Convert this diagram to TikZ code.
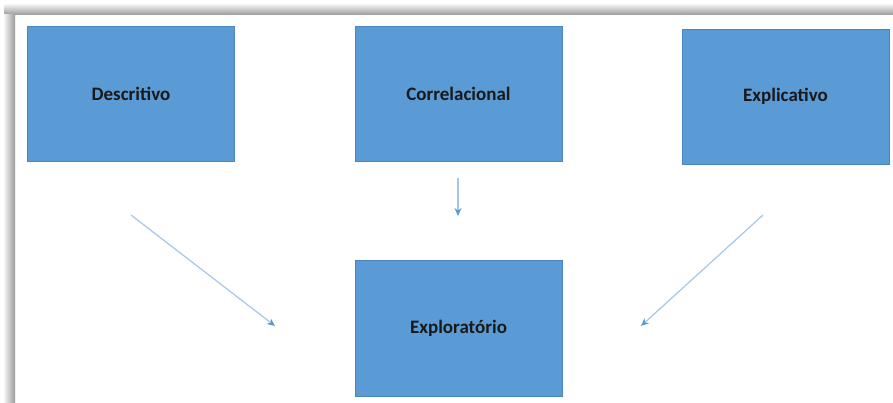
\documentclass[tikz,border=0pt]{standalone}
\usepackage{fontspec}
\setmainfont{Carlito}
\usetikzlibrary{arrows.meta,calc}
\definecolor{boxblue}{HTML}{5B9BD5}
\definecolor{boxline}{HTML}{4A86C0}
\definecolor{arrowblue}{HTML}{A4C6E8}
\tikzset{
  tipo/.style={draw=boxline,fill=boxblue,line width=0.6pt,minimum width=207pt,minimum height=135pt,font=\bfseries\fontsize{19}{21}\selectfont,text=black!90},
  seta/.style={arrowblue,line width=1.2pt,-{Stealth[length=8pt,width=7pt,color=boxblue]}}
}
\begin{document}
\begin{tikzpicture}[x=1pt,y=-1pt]
\useasboundingbox (0,0) rectangle (893,403);
% sombra da moldura
\shade[top color=white,bottom color=gray!80] (4,3) rectangle (893,15);
\shade[left color=white,right color=gray!80] (3,15) rectangle (15,403);
\node[tipo] (desc) at (131,93.5) {Descritivo};
\node[tipo] (corr) at (458.5,93.5) {Correlacional};
\node[tipo] (expl) at (785.5,96.5) {Explicativo};
\node[tipo,minimum height=136pt] (expr) at (458.5,328) {Exploratório};
\coordinate (d1) at (131,215);
\coordinate (d2) at (275,326);
\coordinate (c1) at (458,178);
\coordinate (c2) at (458,216);
\coordinate (e1) at (763,215);
\coordinate (e2) at (641,326);
\draw[seta] (d1)--(d2);
\draw[seta] (c1)--(c2);
\draw[seta] (e1)--(e2);
\end{tikzpicture}
\end{document}
